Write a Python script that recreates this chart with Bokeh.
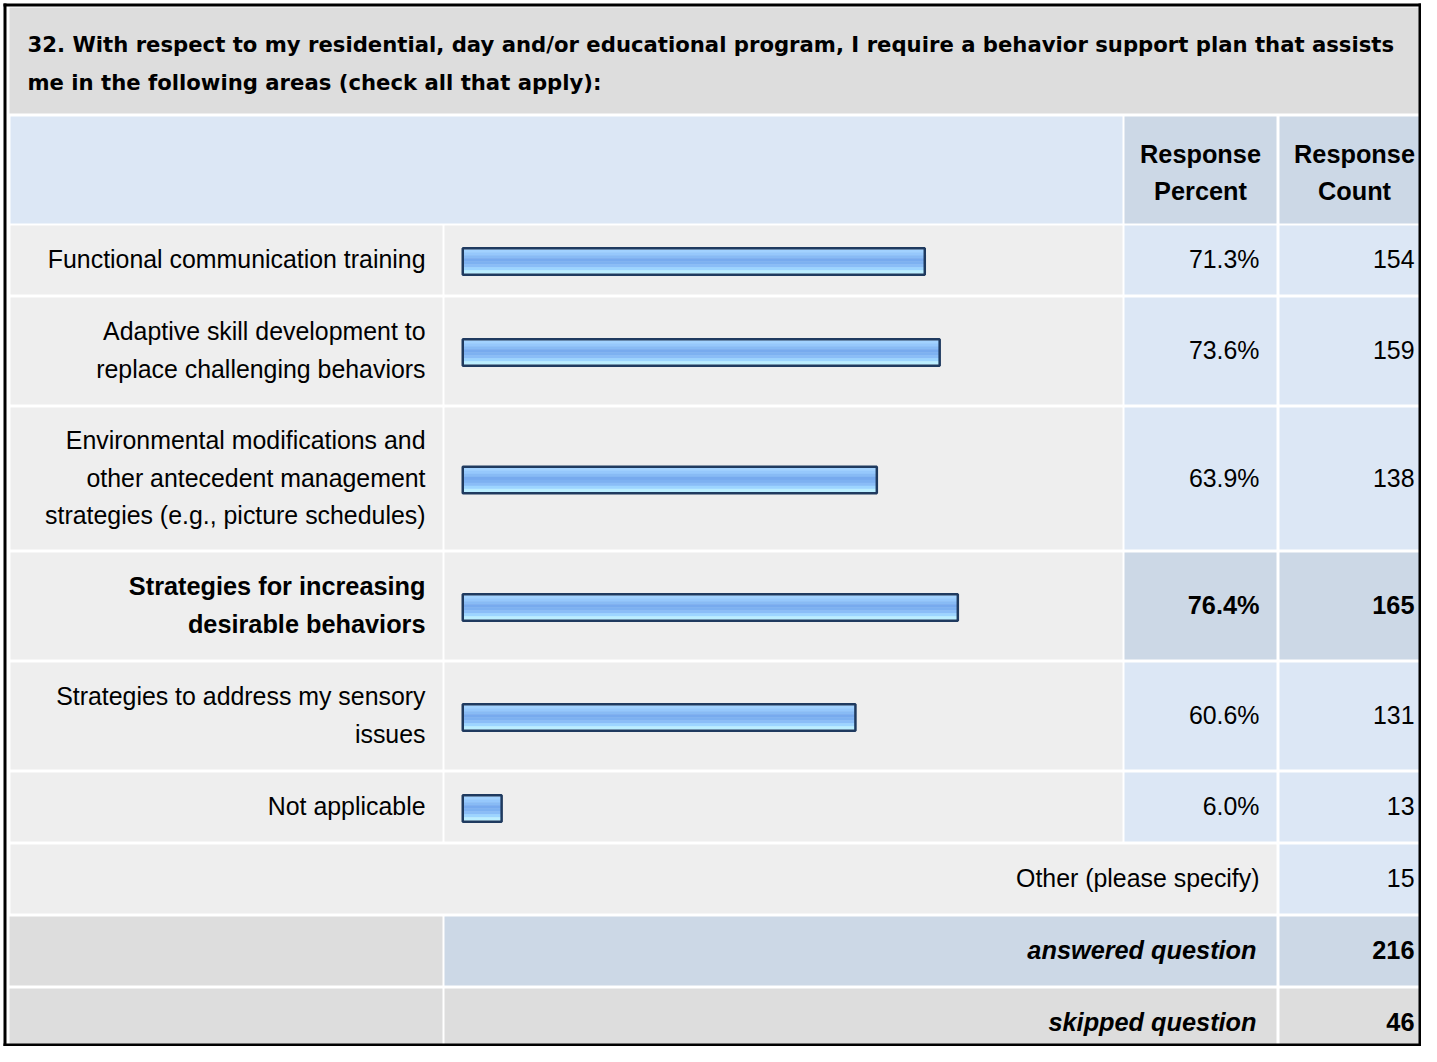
from bokeh.plotting import figure
from bokeh.models import Range1d
from bokeh.core.properties import value
from bokeh.embed import file_html
from bokeh.resources import INLINE

# ---------------- data ----------------
title_lines = [
    "32. With respect to my residential, day and/or educational program, I require a behavior support plan that assists",
    "me in the following areas (check all that apply):",
]
header_pct = ["Response", "Percent"]
header_cnt = ["Response", "Count"]
categories = [
    "Functional communication training",
    "Adaptive skill development to\nreplace challenging behaviors",
    "Environmental modifications and\nother antecedent management\nstrategies (e.g., picture schedules)",
    "Strategies for increasing\ndesirable behaviors",
    "Strategies to address my sensory\nissues",
    "Not applicable",
]
percents = [71.3, 73.6, 63.9, 76.4, 60.6, 6.0]
counts = [154, 159, 138, 165, 131, 13]
other_label = "Other (please specify)"
other_count = 15
answered_label = "answered question"
answered_count = 216
skipped_label = "skipped question"
skipped_count = 46

# ---------------- style / layout ----------------
FONT = "Liberation Sans"
TFONT = "DejaVu Sans"
FS = "24.9px"
BFS = "25.3px"
TFS = "21.2px"
C_GRAY = "#DDDDDD"
C_LIGHT = "#EEEEEE"
C_BLUE = "#DCE7F5"
C_BLUE2 = "#CCD8E6"
C_BORDER = "#1F3A5F"
BAND_COLORS = ["#A2D2FF", "#96C8FC", "#88BBF5", "#77AAEE",
               "#7DB1F1", "#8ABDF7", "#9DD5FF", "#BBEEFF"]

W, H = 1421, 1046
BAR_X0 = 462.25      # screen x of 0 %
BAR_SCALE = 6.48     # px per percent

COL_L = (10, 442)
COL_B = (444, 1122)
COL_P = (1124, 1276)
COL_C = (1279, 1431)
ROW_H = {1: 69, 2: 107, 3: 142}
GAP = 3
LINE_SP = 37.5

p = figure(width=W, height=H,
           x_range=Range1d(0, W), y_range=Range1d(H, 0),
           output_backend="svg", toolbar_location=None, min_border=0,
           x_axis_location=None, y_axis_location=None)
p.extra_x_ranges = {"pct": Range1d((0 - BAR_X0) / BAR_SCALE,
                                   (W - BAR_X0) / BAR_SCALE)}
p.grid.visible = False
p.outline_line_color = None
p.background_fill_color = "white"
p.border_fill_color = "white"

qL, qR, qT, qB, qC = [], [], [], [], []


def cell(l, r, t, b, c):
    qL.append(l); qR.append(r); qT.append(t); qB.append(b); qC.append(c)


tx, ty, tt, tal, tsty = [], [], [], [], []


def txt(x, y, s, align="right", style="normal"):
    tx.append(x); ty.append(y); tt.append(s); tal.append(align); tsty.append(style)


# title + header
cell(9, 1431, 7, 113, C_GRAY)
cell(COL_L[0], COL_B[1], 116, 223, C_BLUE)
cell(COL_P[0], COL_P[1], 116, 223, C_BLUE2)
cell(COL_C[0], COL_C[1], 116, 223, C_BLUE2)
for i, s in enumerate(header_pct):
    txt((COL_P[0] + COL_P[1]) / 2, 153 + i * LINE_SP, s, "center", "bold")
for i, s in enumerate(header_cnt):
    txt((COL_C[0] + COL_C[1]) / 2 - 1, 153 + i * LINE_SP, s, "center", "bold")

# data rows
hi = percents.index(max(percents))
y = 225
centers = []
for i, cat in enumerate(categories):
    lines = cat.split("\n")
    h = ROW_H[len(lines)]
    top, bot = y, y + h
    cy = (top + bot) / 2
    centers.append(cy)
    vc = C_BLUE2 if i == hi else C_BLUE
    st = "bold" if i == hi else "normal"
    cell(COL_L[0], COL_L[1], top, bot, C_LIGHT)
    cell(COL_B[0], COL_B[1], top, bot, C_LIGHT)
    cell(COL_P[0], COL_P[1], top, bot, vc)
    cell(COL_C[0], COL_C[1], top, bot, vc)
    n = len(lines)
    for k, s in enumerate(lines):
        txt(425, cy - 1 + (k - (n - 1) / 2) * LINE_SP, s, "right", st)
    txt(1259, cy - 1, f"{percents[i]:.1f}%", "right", st)
    txt(1414, cy - 1, str(counts[i]), "right", st)
    y = bot + GAP

# other row
top, bot = y, y + ROW_H[1]
cell(COL_L[0], COL_P[1], top, bot, C_LIGHT)
cell(COL_C[0], COL_C[1], top, bot, C_BLUE)
txt(1259, (top + bot) / 2 - 1, other_label)
txt(1414, (top + bot) / 2 - 1, str(other_count))
y = bot + GAP

# answered row
top, bot = y, y + ROW_H[1]
cell(9, COL_L[1], top, bot, C_GRAY)
cell(COL_B[0], COL_P[1], top, bot, C_BLUE2)
cell(COL_C[0], COL_C[1], top, bot, C_BLUE2)
txt(1256, (top + bot) / 2 - 1, answered_label, "right", "bold italic")
txt(1414, (top + bot) / 2 - 1, str(answered_count), "right", "bold")
y = bot + GAP

# skipped row
top, bot = y, y + ROW_H[1]
cell(9, COL_L[1], top, bot, C_GRAY)
cell(COL_B[0], COL_P[1], top, bot, C_GRAY)
cell(COL_C[0], COL_C[1], top, bot, C_GRAY)
txt(1256, (top + bot) / 2 - 1, skipped_label, "right", "bold italic")
txt(1414, (top + bot) / 2 - 1, str(skipped_count), "right", "bold")

p.quad(left=qL, right=qR, top=qT, bottom=qB, fill_color=qC, line_color=None)

# bars (gradient bands + outline) through the percent scale
bar_c = [c + 1.5 for c in centers]
nb = len(BAND_COLORS)
bh = 24 / nb
for k, col in enumerate(BAND_COLORS):
    p.hbar(y=[c - 12 + bh * k + bh / 2 for c in bar_c], height=bh + 0.4,
           left=0, right=percents, fill_color=col, line_color=None,
           x_range_name="pct")
p.hbar(y=bar_c, height=26.5, left=0, right=percents, fill_color=None,
       line_color=C_BORDER, line_width=2.5, x_range_name="pct")

# title
p.text(x=[27] * len(title_lines), y=[44 + i * LINE_SP for i in range(len(title_lines))],
       text=title_lines, text_align="left", text_baseline="middle",
       text_font=value(TFONT), text_font_size=value(TFS),
       text_font_style="bold", text_color="#000000")

# other texts
for style in ["normal", "bold", "bold italic"]:
    for align in ["left", "right", "center"]:
        idx = [i for i in range(len(tt)) if tsty[i] == style and tal[i] == align]
        if not idx:
            continue
        p.text(x=[tx[i] for i in idx], y=[ty[i] for i in idx],
               text=[tt[i] for i in idx], text_align=align,
               text_baseline="middle", text_font=value(FONT),
               text_font_size=value(FS if style == "normal" else BFS),
               text_font_style=style, text_color="#000000")

# outer black frame
p.quad(left=[3, W - 3, 3, 3], right=[6, W, W, W],
       top=[3, 3, 3, H - 3], bottom=[H, H, 6, H],
       fill_color="#000000", line_color=None)

open("out.html", "w").write(file_html(p, INLINE))
